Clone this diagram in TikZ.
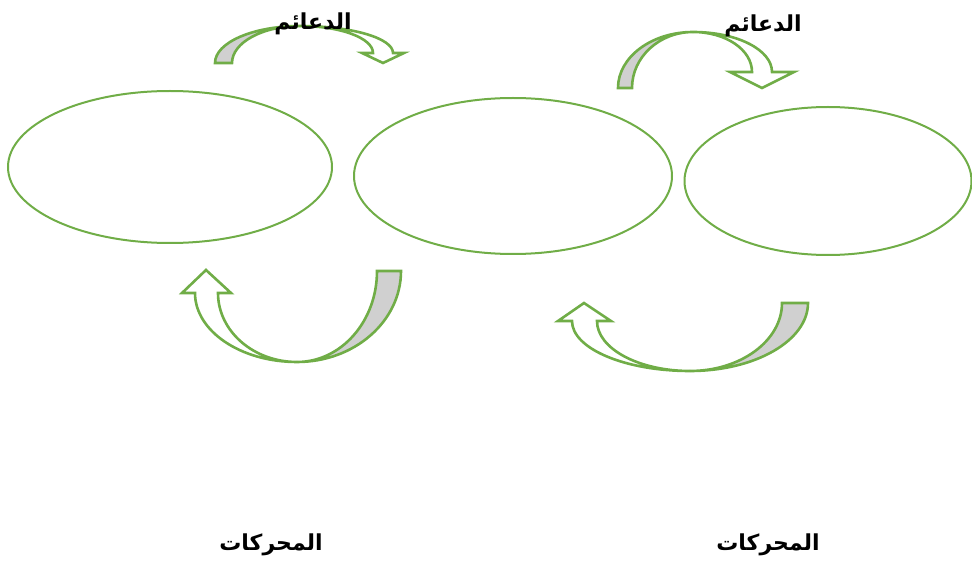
\documentclass[tikz,border=0pt]{standalone}
\usepackage{fontspec}
\TeXXeTstate=1
\newfontfamily\arabicfont[Script=Arabic]{DejaVu Sans}
\usetikzlibrary{shapes.geometric}
\definecolor{offgreen}{HTML}{70AD47}
\definecolor{shadegray}{HTML}{D0D0D0}
\tikzset{
 oval/.style={ellipse, draw=offgreen, line width=2pt, inner sep=0pt},
 arrowface/.style={draw=offgreen, line width=2.6pt, fill=white, line join=miter},
 arrowback/.style={draw=offgreen, line width=2.6pt, fill=shadegray},
 lbl/.style={font=\arabicfont\bfseries\fontsize{22}{26}\selectfont, inner sep=0pt}
}
\begin{document}
\begin{tikzpicture}[x=1pt,y=-1pt]
\useasboundingbox (0,0) rectangle (972,564);
% ovals
\node[oval, minimum width=324pt, minimum height=152pt] (e1) at (170,167) {};
\node[oval, minimum width=318pt, minimum height=156pt] (e2) at (513,176) {};
\node[oval, minimum width=287pt, minimum height=148pt] (e3) at (828,181) {};
% top arrow 1
\draw[arrowback] (215,63) .. controls (215,42.6) and (253,26) .. (300,26) .. controls (262.4,26) and (232,42.6) .. (232,63) -- cycle;
\draw[arrowface] (300,26) .. controls (351.4,26) and (393,38.1) .. (393,53) -- (404,53) -- (383,63) -- (362,53) -- (373,53) .. controls (373,38.1) and (340.3,26) .. (300,26) -- cycle;
% top arrow 2
\draw[arrowback] (618,88) .. controls (618,57.1) and (651.6,32) .. (693,32) .. controls (659.3,32) and (632,57.1) .. (632,88) -- cycle;
\draw[arrowface] (693,32) .. controls (737.2,32) and (772,49.9) .. (772,72) -- (794,72) -- (762,88) -- (730,72) -- (752,72) .. controls (752,49.9) and (726.1,32) .. (693,32) -- cycle;
% bottom arrow 1
\draw[arrowback] (401,271) .. controls (401,321.3) and (354.4,362) .. (297,362) .. controls (341.2,362) and (377,321.3) .. (377,271) -- cycle;
\draw[arrowface] (218,293) .. controls (218,331.1) and (253.4,362) .. (297,362) .. controls (240.7,362) and (195,331.1) .. (195,293) -- (182,293) -- (206,270) -- (231,293) -- cycle;
% bottom arrow 2
\draw[arrowback] (808,303) .. controls (808,340.6) and (755.2,371) .. (690,371) .. controls (740.8,371) and (782,340.6) .. (782,303) -- cycle;
\draw[arrowface] (597,321) .. controls (597,348.6) and (638.6,371) .. (690,371) .. controls (624.8,371) and (572,348.6) .. (572,321) -- (558,321) -- (584,303) -- (611,321) -- cycle;
% labels
\node[lbl] (t1) at (313,24) {\beginR الدعائم\endR};
\node[lbl] (t2) at (763,26) {\beginR الدعائم\endR};
\node[lbl] (t3) at (271,545) {\beginR المحركات\endR};
\node[lbl] (t4) at (768,545) {\beginR المحركات\endR};
\end{tikzpicture}
\end{document}
